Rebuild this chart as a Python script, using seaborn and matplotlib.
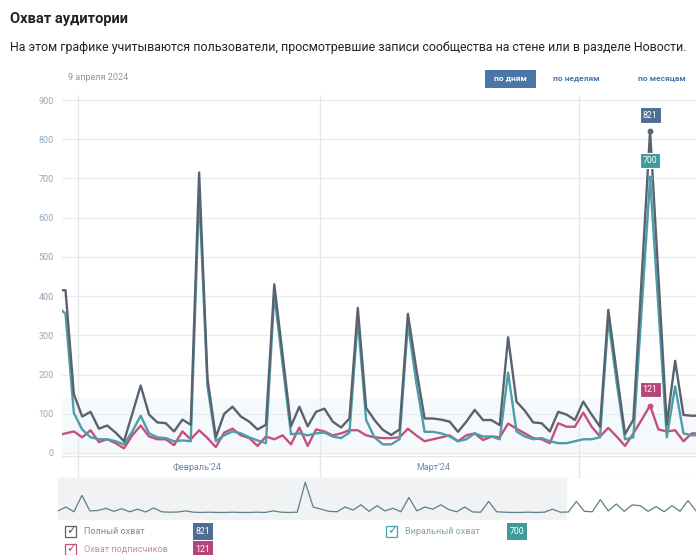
import numpy as np
import pandas as pd
import matplotlib
matplotlib.use('Agg')
import matplotlib.pyplot as plt
import seaborn as sns
from matplotlib.patches import Rectangle

sns.set_style('white')
plt.rcParams['font.family'] = ['Roboto', 'DejaVu Sans']

# daily values, 29 Jan .. 15 Apr 2024
dates = pd.date_range('2024-01-29', '2024-04-15', freq='D')

total_reach = [415, 415, 150,
               93, 105, 62, 70, 52, 30, 100, 172, 98, 78,
               76, 55, 85, 72, 715, 190, 40, 100, 118, 93,
               80, 60, 72, 430, 250, 68, 118, 68, 105,
               113, 80, 65, 88, 370, 115, 84, 59, 46, 60,
               355, 215, 88, 88, 85, 80, 54, 80, 110, 84,
               84, 71, 295, 131, 108, 78, 76, 55, 105, 98,
               84,
               131, 98, 67, 365, 205, 48, 85, 450, 821, 450,
               72, 235, 97, 95, 95]

viral_reach = [375, 355, 102,
               60, 40, 35, 35, 30, 22, 55, 95, 50, 40,
               38, 30, 32, 30, 665, 170, 30, 45, 55, 50,
               40, 32, 25, 405, 225, 48, 50, 45, 50,
               52, 42, 38, 52, 340, 84, 40, 22, 22, 35,
               330, 180, 54, 54, 50, 42, 30, 35, 50, 42,
               42, 35, 205, 55, 42, 35, 38, 30, 25, 25,
               30,
               35, 35, 40, 340, 180, 35, 40, 370, 700, 370,
               40, 170, 50, 45, 45]

subscriber_reach = [45, 50, 55,
                    40, 58, 28, 35, 25, 12, 45, 70, 42, 35,
                    35, 20, 55, 35, 58, 38, 15, 52, 62, 45,
                    38, 18, 42, 35, 45, 22, 65, 18, 60,
                    55, 45, 50, 58, 58, 45, 40, 38, 38, 40,
                    62, 45, 30, 35, 40, 45, 30, 45, 50, 33,
                    42, 40, 75, 62, 50, 38, 35, 25, 76, 67,
                    67,
                    103, 67, 42, 64, 42, 18, 50, 85, 121, 60,
                    55, 58, 30, 50, 50]

# overview strip under the chart (longer history)
nav_reach = [60, 150, 40, 420, 60, 70, 120, 50, 110, 40,
             100, 35, 130, 40, 30, 35, 60, 30, 25, 30,
             25, 25, 30, 25, 25, 30, 25, 60, 30, 25,
             30, 720, 150, 100, 50, 40, 150, 80, 200, 50,
             180, 60, 120, 40, 370, 60, 150, 100, 200, 90,
             40, 150, 35, 30, 280, 40, 30, 25, 25, 30,
             25, 30, 100, 30, 35, 280, 50, 40, 320, 60,
             220, 50, 200, 180, 50, 160, 40, 180, 50, 300, 60]

series_names = ['Полный охват', 'Виральный охват', 'Охват подписчиков']
colors = {'Полный охват': '#59626f', 'Виральный охват': '#4d9ea8',
          'Охват подписчиков': '#c4507e'}
badge_colors = {'Полный охват': '#4f6d92', 'Виральный охват': '#3f9a9c',
                'Охват подписчиков': '#b5457c'}
month_starts = pd.to_datetime(['2024-02-01', '2024-03-01', '2024-04-01'])
month_labels = ["Февраль'24", "Март'24"]
hover_date = pd.Timestamp('2024-04-09')
y_ticks = list(range(0, 901, 100))

W, H = 696, 555
fig = plt.figure(figsize=(W / 100, H / 100), dpi=100)


def box(x0, y0, x1, y1):
    return [x0 / W, 1 - y1 / H, (x1 - x0) / W, (y1 - y0) / H]


def fx(x):
    return x / W


def fy(y):
    return 1 - y / H


origin = month_starts[0]
day = (dates - origin).days + 0.5
month_pos = (month_starts - origin).days

df = pd.DataFrame({
    'day': np.tile(day, 3),
    'value': total_reach + viral_reach + subscriber_reach,
    'series': np.repeat(series_names, len(dates)),
})

# main chart
ax = fig.add_axes(box(62, 95, 696, 458))
ax.axhspan(0, 140, color='#f6f9fc', zorder=0, lw=0)
sns.lineplot(data=df, x='day', y='value', hue='series',
             hue_order=['Охват подписчиков', 'Виральный охват', 'Полный охват'],
             palette=colors, linewidth=1.7, legend=False, ax=ax)
ax.set_xlim(-1.92, 74.0)
ax.set_ylim(-12.75, 912.75)
ax.set_yticks(y_ticks)
ax.set_xticks([])
ax.set_xlabel('')
ax.set_ylabel('')
ax.tick_params(axis='y', length=0, labelsize=6.5, labelcolor='#93a6ba', pad=6)
for s in ax.spines.values():
    s.set_visible(False)
ax.grid(axis='y', color='#e9ecef', lw=1)
for m in month_pos:
    ax.axvline(m, color='#e4e7ea', lw=1, zorder=0)

# hover markers and value badges
hx = (hover_date - origin).days + 0.5
hi = list(dates).index(hover_date)
for name, vals, off in [('Полный охват', total_reach, 11.5),
                        ('Виральный охват', viral_reach, 13),
                        ('Охват подписчиков', subscriber_reach, 11.5)]:
    ax.scatter([hx], [vals[hi]], s=10, color=colors[name], zorder=5)
    ax.annotate(str(vals[hi]), (hx, vals[hi]), xytext=(0, off),
                textcoords='offset points', ha='center', va='center',
                fontsize=6.3, color='white', zorder=6,
                bbox=dict(boxstyle='square,pad=0.35', fc=badge_colors[name],
                          ec='white', lw=0.8))

# month band
mb = fig.add_axes(box(62, 456, 696, 478))
mb.set_xlim(ax.get_xlim())
mb.set_ylim(0, 1)
mb.axis('off')
mb.axhline(0.02, color='#e3e6ea', lw=1)
mb.axhline(0.98, color='#e3e6ea', lw=1)
for m in month_pos:
    mb.axvline(m, color='#e3e6ea', lw=1)
for lbl, pos in zip(month_labels, [14.3, 42.5]):
    mb.text(pos, 0.5, lbl, ha='center', va='center', fontsize=6.5, color='#6d87a3')

# navigator strip
nav = fig.add_axes(box(58, 478, 696, 520))
nav.axvspan(0, 63.8, color='#f0f2f4', lw=0, zorder=0)
sns.lineplot(x=np.arange(len(nav_reach)), y=nav_reach, color='#5f7f88',
             linewidth=0.9, ax=nav)
nav.set_xlim(0, len(nav_reach) - 1)
nav.set_ylim(-150, 820)
nav.axis('off')

# header
fig.text(fx(10), fy(19), 'Охват аудитории', fontsize=10.5, fontweight='bold',
         color='#222222', va='center')
fig.text(fx(10), fy(47),
         'На этом графике учитываются пользователи, просмотревшие записи '
         'сообщества на стене или в разделе Новости.',
         fontsize=8.9, color='#222222', va='center')
fig.text(fx(68), fy(77), '9 апреля 2024', fontsize=6.5, color='#8c97a3', va='center')

fig.patches.append(Rectangle((fx(485), fy(88)), fx(51), 18 / H,
                             transform=fig.transFigure, fc='#4a76a8', ec='none'))
fig.text(fx(510.5), fy(79), 'по дням', fontsize=6, fontweight='bold',
         color='white', ha='center', va='center')
fig.text(fx(576), fy(79), 'по неделям', fontsize=6, fontweight='bold',
         color='#4a76a8', ha='center', va='center')
fig.text(fx(638), fy(79), 'по месяцам', fontsize=6, fontweight='bold',
         color='#4a76a8', ha='left', va='center')

# legend
legend_items = [('Полный охват', 65, 531, '#7d8894', 203, total_reach),
                ('Виральный охват', 386, 531, '#86a3a8', 517, viral_reach),
                ('Охват подписчиков', 65, 549, '#c98aa3', 203, subscriber_reach)]
for name, x0, yc, tcol, bx, vals in legend_items:
    fig.patches.append(Rectangle((fx(x0), fy(yc + 5.5)), fx(11), 11 / H,
                                 transform=fig.transFigure, fc='white',
                                 ec=colors[name], lw=0.9))
    fig.text(fx(x0 + 6.5), fy(yc), '✓', fontsize=9, color=colors[name],
             ha='center', va='center', family=['DejaVu Sans'])
    fig.text(fx(x0 + 19), fy(yc), name, fontsize=6.5, color=tcol, va='center')
    fig.patches.append(Rectangle((fx(bx - 10), fy(yc + 8.5)), fx(20), 17 / H,
                                 transform=fig.transFigure,
                                 fc=badge_colors[name], ec='none'))
    fig.text(fx(bx), fy(yc), str(vals[hi]), fontsize=6.3, color='white',
             ha='center', va='center')

fig.savefig('out.png', dpi=100)
